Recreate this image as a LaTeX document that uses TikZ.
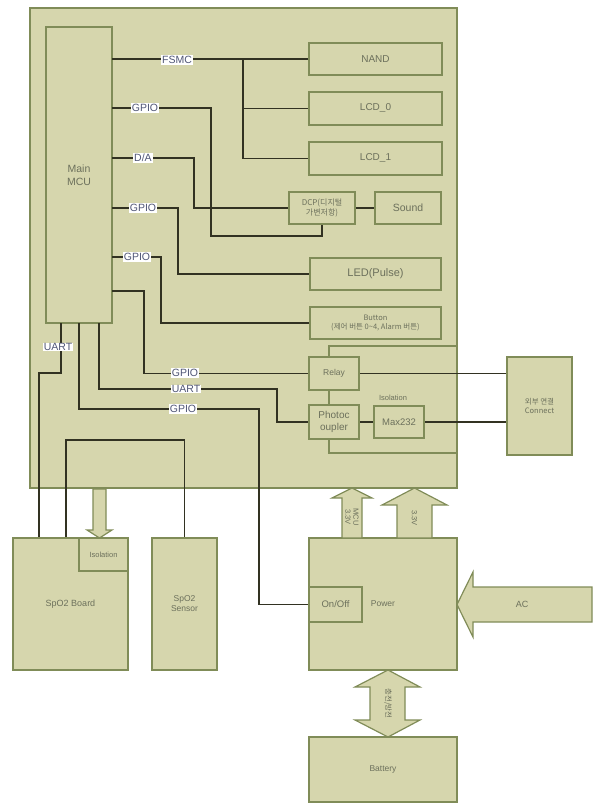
\documentclass[tikz,border=0pt]{standalone}
\usepackage{fontspec}
\setmainfont{Liberation Sans}
\newfontfamily\kr{Noto Sans CJK KR}
\definecolor{fillc}{RGB}{214,214,173}
\definecolor{edgec}{RGB}{128,140,88}
\definecolor{wirec}{RGB}{50,50,34}
\definecolor{txtc}{RGB}{108,112,92}
\definecolor{lblc}{RGB}{80,86,118}
\begin{document}
\begin{tikzpicture}[x=1pt,y=-1pt,
  box/.style={draw=edgec, fill=fillc, line width=1.4pt, inner sep=1pt, outer sep=0pt,
    text=txtc, align=center, font=\fontsize{10}{11.5}\selectfont},
  region/.style={draw=edgec, line width=1.4pt, inner sep=0pt, outer sep=0pt},
  wire/.style={draw=wirec, line width=1.8pt},
  lbl/.style={fill=white, text=lblc, inner sep=0.8pt, font=\fontsize{10.5}{10.5}\selectfont},
  barrow/.style={draw=edgec, fill=fillc, line width=1.2pt, line join=miter},
  atext/.style={text=txtc, inner sep=0pt, align=center, font=\fontsize{7.5}{8}\selectfont}]
\useasboundingbox (0,0) rectangle (604,808);

% main board
\node[box, line width=2pt, minimum width=427, minimum height=480] (main) at (243.5,248) {};
\node[region, minimum width=128, minimum height=107] (isoreg) at (393,399.5) {};

% boxes
\node[box, minimum width=66, minimum height=296, font=\fontsize{10.5}{12.5}\selectfont] (mcu) at (79,175) {Main\\MCU};
\node[box, minimum width=133, minimum height=32] (nand) at (375.5,59) {NAND};
\node[box, minimum width=133, minimum height=33] (lcd0) at (375.5,108.5) {LCD\_0};
\node[box, minimum width=133, minimum height=33] (lcd1) at (375.5,158.5) {LCD\_1};
\node[box, minimum width=66, minimum height=32, font=\kr\fontsize{8}{9.5}\selectfont] (dcp) at (322,208) {DCP(디지털\\가변저항)};
\node[box, minimum width=66, minimum height=32, font=\fontsize{10.5}{12}\selectfont] (sound) at (408,208) {Sound};
\node[box, minimum width=131, minimum height=32, font=\fontsize{11}{12}\selectfont] (led) at (375.5,274) {LED(Pulse)};
\node[box, minimum width=131, minimum height=32, font=\kr\fontsize{7.5}{9}\selectfont] (button) at (375.5,323) {Button\\(제어 버튼 0\textasciitilde4, Alarm 버튼)};
\node[box, minimum width=50, minimum height=33, font=\fontsize{8.5}{10}\selectfont] (relay) at (334,373.5) {Relay};
\node[box, minimum width=50, minimum height=34, font=\fontsize{10}{12}\selectfont] (photo) at (334,422) {Photoc\\oupler};
\node[box, minimum width=50, minimum height=32, font=\fontsize{9.5}{11}\selectfont] (max) at (399,422) {Max232};
\node[atext, font=\fontsize{7.5}{8}\selectfont] (isolbl) at (393,398) {Isolation};
\node[box, minimum width=65, minimum height=98, font=\kr\fontsize{7.5}{9.5}\selectfont] (connect) at (539.5,406) {외부 연결\\Connect};

\node[box, minimum width=115, minimum height=132, font=\fontsize{9}{10}\selectfont] (spo2) at (70.5,604) {SpO2 Board};
\node[box, minimum width=49, minimum height=33, font=\fontsize{7.5}{9}\selectfont] (iso) at (103.5,554.5) {Isolation};
\node[box, minimum width=65, minimum height=132, font=\fontsize{8.5}{10}\selectfont] (sensor) at (184.5,604) {SpO2\\Sensor};
\node[box, minimum width=148, minimum height=132, font=\fontsize{8.5}{10}\selectfont] (power) at (383,604) {Power};
\node[box, minimum width=53, minimum height=35, font=\fontsize{9.5}{10}\selectfont] (onoff) at (335.5,604.5) {On/Off};
\node[box, minimum width=148, minimum height=65, font=\fontsize{8.5}{10}\selectfont] (battery) at (383,769.5) {Battery};

% wires
\draw[wire] (mcu.east |- nand.west) -- (nand.west);
\coordinate (fj) at (243,59);
\draw[wire] (fj) -- (fj |- lcd1.west) -- (lcd1.west);
\draw[wire] (fj |- lcd0.west) -- (lcd0.west);
\draw[wire] (mcu.east |- 0,108) -- (211,108) -- (211,236) -- (dcp.south |- 0,236) -- (dcp.south);
\draw[wire] (mcu.east |- 0,158) -- (194,158) -- (194,208) -- (dcp.west);
\draw[wire] (dcp.east) -- (sound.west);
\draw[wire] (mcu.east |- 0,208) -- (178,208) -- (178,274) -- (led.west);
\draw[wire] (mcu.east |- 0,257) -- (161,257) -- (161,323) -- (button.west);
\draw[wire] (mcu.east |- 0,291) -- (144,291) -- (144,373.5) -- (relay.west);
\draw[wire] (relay.east) -- (connect.west |- relay.east);
\draw[wire] (photo.east) -- (max.west);
\draw[wire] (max.east) -- (connect.west |- max.east);
\draw[wire] (mcu.south -| 99,0) -- (99,389) -- (277,389) -- (277,422) -- (photo.west);
\draw[wire] (mcu.south -| 79,0) -- (79,409) -- (259,409) -- (259,604.5) -- (onoff.west);
\draw[wire] (mcu.south -| 61,0) -- (61,373) -- (39,373) -- (spo2.north -| 39,0);
\draw[wire] (spo2.north -| 66,0) -- (66,440) -- (sensor.north |- 0,440) -- (sensor.north);

% redraw box borders over wire ends
\foreach \n in {nand,lcd0,lcd1,dcp,sound,led,button,relay,photo,max,connect,spo2,iso,sensor,onoff}
  \draw[draw=edgec, line width=1.4pt] (\n.north west) rectangle (\n.south east);

% wire labels
\node[lbl] (l1) at (177,60) {FSMC};
\node[lbl] (l2) at (145,108) {GPIO};
\node[lbl] (l3) at (143,158) {D/A};
\node[lbl] (l4) at (143,208) {GPIO};
\node[lbl] (l5) at (137,257) {GPIO};
\node[lbl] (l6) at (185,373) {GPIO};
\node[lbl] (l7) at (186,389) {UART};
\node[lbl] (l8) at (183,409) {GPIO};
\node[lbl] (l9) at (58,347) {UART};

% block arrows
\draw[barrow] (93,489) -- (106,489) -- (106,530) -- (112,530) -- (99.5,538) -- (87,530) -- (93,530) -- cycle;
\draw[barrow] (342,538) -- (342,498) -- (332,498) -- (352,488) -- (372,498) -- (362,498) -- (362,538) -- cycle;
\draw[barrow] (397,538) -- (397,505) -- (382,505) -- (414.5,488) -- (447,505) -- (432,505) -- (432,538) -- cycle;
\draw[barrow] (457,604.5) -- (473,572) -- (473,587) -- (592,587) -- (592,622) -- (473,622) -- (473,637) -- cycle;
\draw[barrow] (388,670) -- (420,687) -- (405,687) -- (405,720) -- (420,720) -- (388,737) -- (355,720) -- (370,720) -- (370,687) -- (355,687) -- cycle;

\node[atext, rotate=-90] (t1) at (352,517) {MCU\\3.3V};
\node[atext, rotate=-90] (t2) at (414.5,518) {3.3V};
\node[atext, font=\fontsize{9}{10}\selectfont] (t3) at (522,604.5) {AC};
\node[atext, rotate=-90, font=\kr\fontsize{7.5}{8}\selectfont] (t4) at (388,703.5) {충전/방전};
\end{tikzpicture}
\end{document}
